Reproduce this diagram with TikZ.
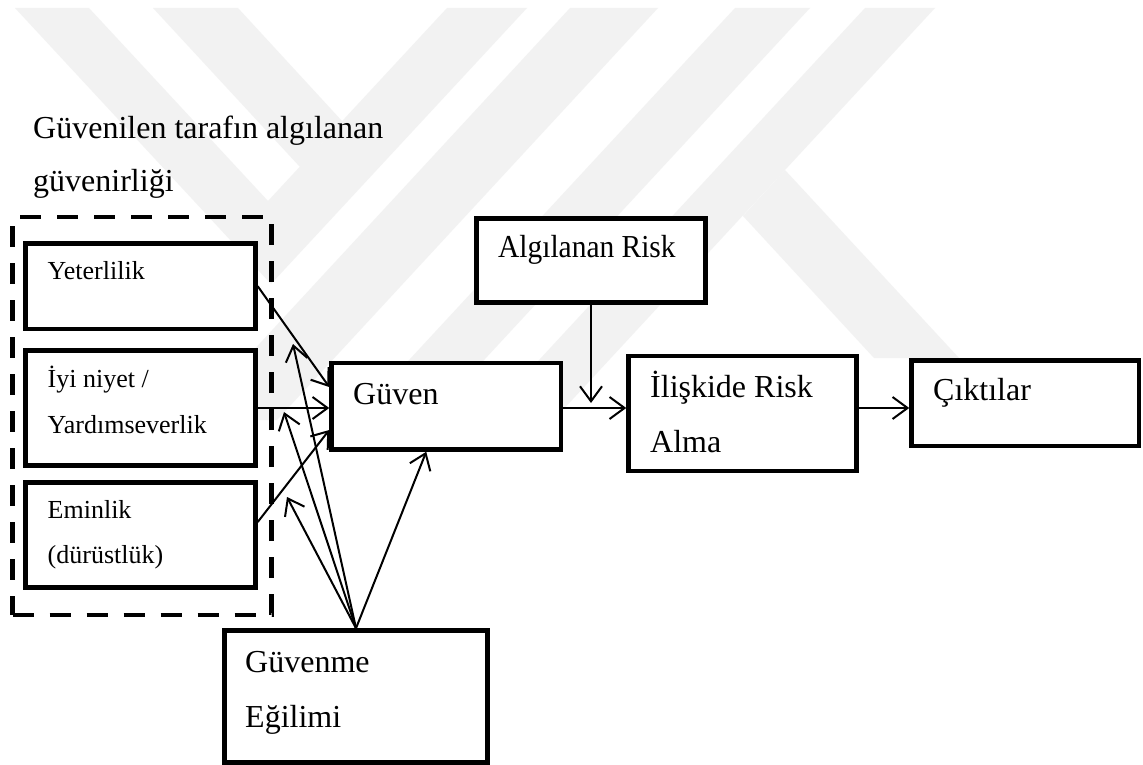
\documentclass[tikz,border=0pt]{standalone}
\usepackage{fontspec}
\setmainfont{Liberation Serif}
\usetikzlibrary{arrows.meta,calc}
\newcommand\fbig{\fontsize{32pt}{52pt}\selectfont}
\newcommand\fsmall{\fontsize{26pt}{45pt}\selectfont}
\begin{document}
\begin{tikzpicture}[x=1pt,y=-1pt,
  box/.style={draw, fill=white, line width=4.5pt, rectangle, inner sep=0pt},
  grp/.style={draw, line width=4.5pt, dash pattern=on 21pt off 16pt, rectangle, inner sep=0pt},
  arr/.style={line width=2pt, -{Straight Barb[length=15pt,width=22pt]}},
  big/.style={anchor=base west, inner sep=0pt, font=\fbig},
  small/.style={anchor=base west, inner sep=0pt, font=\fsmall},
  wm/.style={fill=black!5, draw=none}]
\useasboundingbox (0,0) rectangle (1143,765);
\fill[white] (0,0) rectangle (1143,765);
% faint watermark
\fill[wm] (15,8) -- (89,8) -- (268,201) -- (447,8) -- (527,8) -- (271,284) -- cycle;
\fill[wm] (153,8) -- (238,8) -- (342,121) -- (300,167) -- cycle;
\fill[wm] (570,8) -- (658,8) -- (277,420) -- (189,420) -- cycle;
\fill[wm] (735,8) -- (810,8) -- (410,440) -- (335,440) -- cycle;
\fill[wm] (865,8) -- (935,8) -- (535,440) -- (465,440) -- cycle;
\fill[wm] (785,170) -- (959,358) -- (874,358) -- (743,216) -- cycle;
% group and boxes
\node[grp, minimum width=259pt, minimum height=398pt] (grp) at (142,416) {};
\node[box, minimum width=230pt, minimum height=85.5pt] (yet) at (140.5,286.25) {};
\node[box, minimum width=230pt, minimum height=115pt] (iyi) at (140.5,408) {};
\node[box, minimum width=230pt, minimum height=105pt] (emi) at (140.5,535) {};
\node[box, minimum width=229.5pt, minimum height=86.5pt] (guv) at (446.25,406.25) {};
\node[box, minimum width=229pt, minimum height=84pt] (alg) at (591,260.5) {};
\node[box, minimum width=228pt, minimum height=115pt] (ili) at (742.5,413.5) {};
\node[box, minimum width=227.5pt, minimum height=85.5pt] (cik) at (1025.25,403.25) {};
\node[box, minimum width=263pt, minimum height=132pt] (egi) at (356,696.5) {};
% texts
\node[big] (title1) at (33,139) {Güvenilen tarafın algılanan};
\node[big] (title2) at (33,191) {güvenirliği};
\node[small] (tyet) at (47.5,279) {Yeterlilik};
\node[small] (tiyi1) at (47.5,387) {İyi niyet /};
\node[small] (tiyi2) at (47.5,433) {Yardımseverlik};
\node[small] (temi1) at (47.5,518) {Eminlik};
\node[small] (temi2) at (47.5,563) {(dürüstlük)};
\node[big] (tguv) at (353,404) {Güven};
\node[big] (talg) at (498,257) {\scalebox{0.92}[1]{Algılanan Risk}};
\node[big] (tili1) at (650,397) {İlişkide Risk};
\node[big] (tili2) at (650,452) {Alma};
\node[big] (tcik) at (933,400) {Çıktılar};
\node[big] (tegi1) at (245,672) {Güvenme};
\node[big] (tegi2) at (245,727) {Eğilimi};
% connectors
\coordinate (p1) at (293,344);
\coordinate (p2) at (284,412);
\coordinate (p3) at (287,497);
\coordinate (aj) at (591,403);
\coordinate (hy) at (0,408);
\draw[arr] (yet.east) -- ([yshift=19.25pt]guv.west);
\draw[arr] (iyi.east |- hy) -- (guv.west |- hy);
\draw[arr] ([yshift=13pt]emi.east) -- ([yshift=-23.75pt]guv.west);
\draw[arr] (guv.east |- hy) -- (ili.west |- hy);
\draw[arr] (alg.south) -- (aj);
\draw[arr] (ili.east |- hy) -- (cik.west |- hy);
\draw[arr] (egi.north) -- ([xshift=-20pt]guv.south);
\draw[arr] (egi.north) -- (p1);
\draw[arr] (egi.north) -- (p2);
\draw[arr] (egi.north) -- (p3);
\end{tikzpicture}
\end{document}
